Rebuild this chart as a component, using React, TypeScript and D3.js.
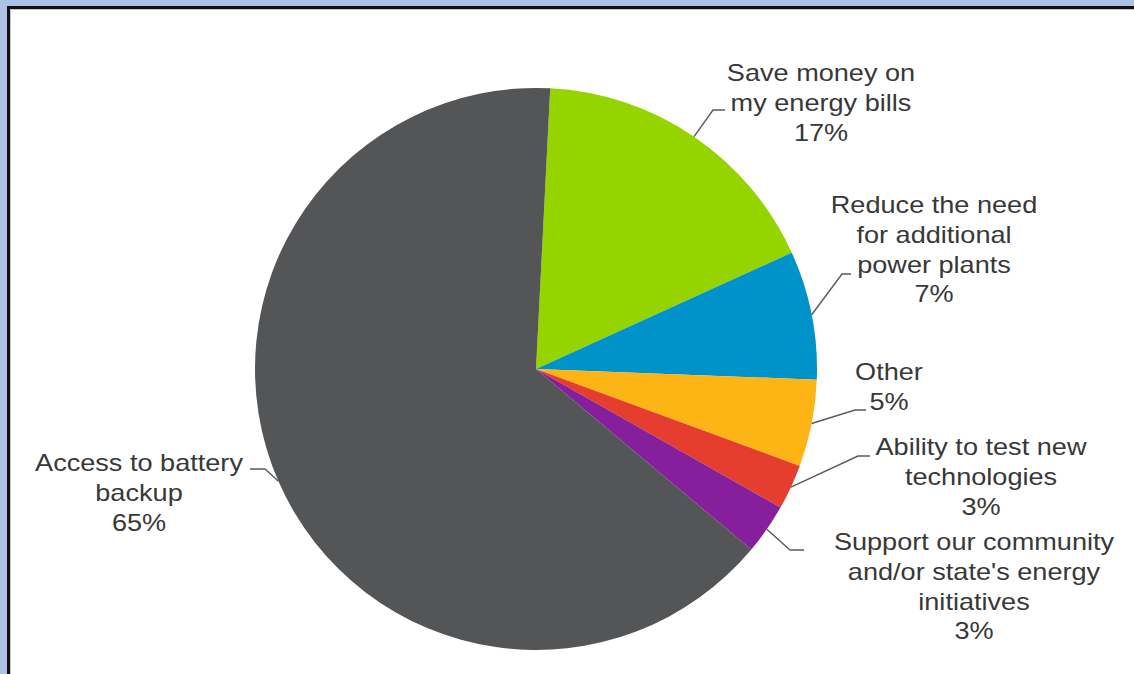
import React from "react";
import * as d3 from "d3";

const categories = [
  "Save money on my energy bills",
  "Reduce the need for additional power plants",
  "Other",
  "Ability to test new technologies",
  "Support our community and/or state's energy initiatives",
  "Access to battery backup",
];
const values = [17.4, 7.4, 5.0, 2.6, 2.9, 64.7];
const percentLabels = ["17%", "7%", "5%", "3%", "3%", "65%"];
const labelLines = [
  ["Save money on", "my energy bills"],
  ["Reduce the need", "for additional", "power plants"],
  ["Other"],
  ["Ability to test new", "technologies"],
  ["Support our community", "and/or state's energy", "initiatives"],
  ["Access to battery", "backup"],
];
const colors = ["#96d400", "#0093c9", "#fdb516", "#e53d2e", "#861f9b", "#545557"];

// label layout: center x, first baseline, elbow point, end of leader
const labelLayout = [
  { cx: 821, y: 81, elbow: [713, 110], end: [725, 110] },
  { cx: 934, y: 213, elbow: [842, 274], end: [851, 274] },
  { cx: 889, y: 380, elbow: [855, 410], end: [866, 410] },
  { cx: 981, y: 455, elbow: [858, 456], end: [870, 456] },
  { cx: 974, y: 550, elbow: [790, 550], end: [804, 550] },
  { cx: 139, y: 471, elbow: [265, 469], end: [250, 469] },
];

const W = 1134;
const H = 674;
const CX = 536;
const CY = 369;
const R = 281;
const START = (2.9 * Math.PI) / 180;
const LINE_H = 29.8;
const FONT = 24;
const SX = 1.13;

export default function App() {
  const pie = d3
    .pie<number>()
    .sort(null)
    .value((d) => d)
    .startAngle(START)
    .endAngle(START + 2 * Math.PI);
  const arcs = pie(values);
  const arc = d3.arc<d3.PieArcDatum<number>>().innerRadius(0).outerRadius(R);
  const edge = d3.arc<d3.PieArcDatum<number>>().innerRadius(R).outerRadius(R);

  return (
    <svg
      width={W}
      height={H}
      style={{ position: "absolute", left: 0, top: 0 }}
      fontFamily="'Liberation Sans', Arial, sans-serif"
    >
      <rect x={0} y={0} width={W} height={H} fill="#adc2e6" />
      <rect x={7} y={6} width={W - 7} height={H - 6} fill="#111" />
      <rect x={10} y={9} width={W - 10} height={H - 9} fill="#c8c8c8" />
      <rect x={11} y={10} width={W - 11} height={H - 10} fill="#ffffff" />
      <g transform={`translate(${CX},${CY})`}>
        {arcs.map((a, i) => (
          <path key={categories[i]} d={arc(a) || ""} fill={colors[i]} />
        ))}
      </g>
      {arcs.map((a, i) => {
        const [px, py] = edge.centroid(a);
        const L = labelLayout[i];
        const pts = [
          [CX + px, CY + py],
          L.elbow,
          L.end,
        ];
        return (
          <polyline
            key={"l" + i}
            points={pts.map((p) => p.join(",")).join(" ")}
            fill="none"
            stroke="#5a5a5a"
            strokeWidth={1.4}
          />
        );
      })}
      {labelLayout.map((L, i) => {
        const lines = [...labelLines[i], percentLabels[i]];
        return (
          <g key={"t" + i} transform={`translate(${L.cx},0) scale(${SX},1)`}>
            {lines.map((t, j) => (
              <text
                key={j}
                x={0}
                y={L.y + j * LINE_H}
                textAnchor="middle"
                fontSize={FONT}
                fill="#383838"
              >
                {t}
              </text>
            ))}
          </g>
        );
      })}
    </svg>
  );
}
